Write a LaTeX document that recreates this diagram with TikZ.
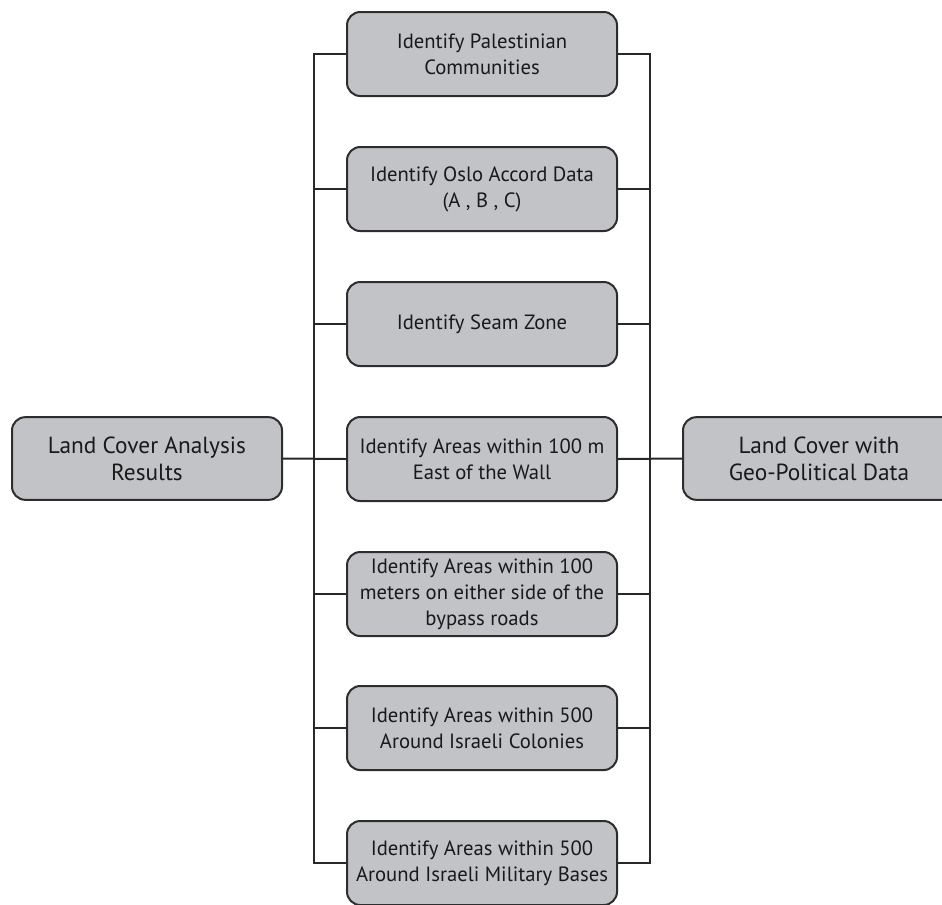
\documentclass[tikz,border=0pt]{standalone}
\usepackage{fontspec}
\setmainfont{PT Sans}
\definecolor{boxfill}{RGB}{193,195,199}
\definecolor{boxline}{RGB}{45,45,45}
\definecolor{linecol}{RGB}{40,40,40}
\definecolor{txt}{RGB}{25,25,25}
\begin{document}
\begin{tikzpicture}[x=0.75pt,y=-0.75pt,
  box/.style={draw=boxline, fill=boxfill, line width=1.5pt, rounded corners=10pt,
    minimum width=202.5pt, minimum height=63pt, inner sep=0pt, align=center,
    font=\fontsize{15.5}{19.5}\selectfont, text=txt},
  sidebox/.style={box, minimum height=62pt, font=\fontsize{17.5}{20.5}\selectfont},
  link/.style={draw=linecol, line width=1.5pt}]
\useasboundingbox (0,0) rectangle (942,904);
\clip (0,0) rectangle (942,904);
\coordinate (bl) at (314,0);
\coordinate (br) at (650,0);
% side boxes
\node[sidebox] (lres) at (147,458.5) {Land Cover Analysis\\Results};
\node[sidebox, minimum width=204pt] (rres) at (819,458.5) {Land Cover with\\Geo-Political Data};
% middle boxes
\node[box] (m1) at (482,54) {Identify Palestinian\\Communities};
\node[box] (m2) at (482,189) {Identify Oslo Accord Data\\(A , B , C)};
\node[box] (m3) at (482,324) {Identify Seam Zone};
\node[box] (m4) at (482,459) {Identify Areas within 100 m\\East of the Wall};
\node[box] (m5) at (482,594) {Identify Areas within 100\\meters on either side of the\\bypass roads};
\node[box] (m6) at (482,728) {Identify Areas within 500\\Around Israeli Colonies};
\node[box] (m7) at (482,863) {Identify Areas within 500\\Around Israeli Military Bases};
% left bus
\draw[link] (m1.west) -- (m1.west -| bl) -- (m7.west -| bl) -- (m7.west);
\foreach \n in {m2,m3,m5,m6} \draw[link] (\n.west) -- (\n.west -| bl);
% right bus
\draw[link] (m1.east) -- (m1.east -| br) -- (m7.east -| br) -- (m7.east);
\foreach \n in {m2,m3,m5,m6} \draw[link] (\n.east) -- (\n.east -| br);
% through connections
\draw[link] (lres.east) -- (m4.west);
\draw[link] (m4.east) -- (rres.west);
\end{tikzpicture}
\end{document}
